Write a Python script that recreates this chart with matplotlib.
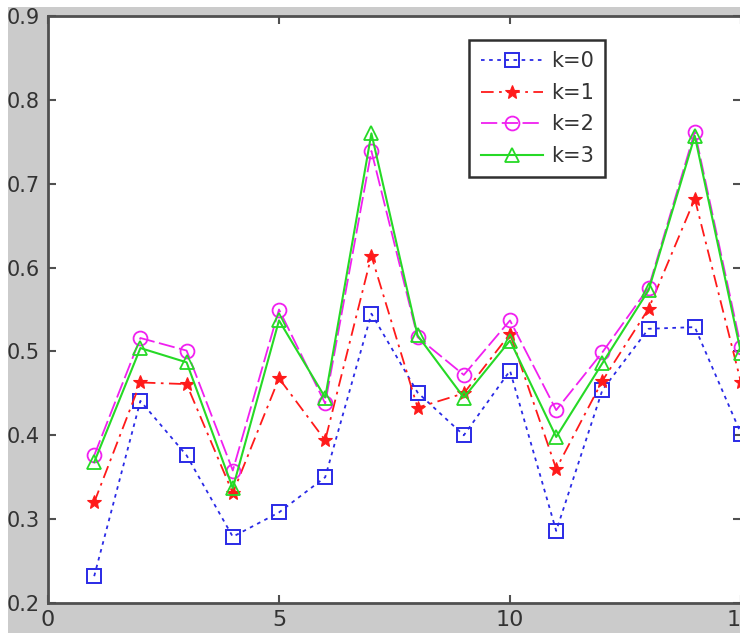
import matplotlib.pyplot as plt
from matplotlib.patches import Rectangle

# values
x = [1, 2, 3, 4, 5, 6, 7, 8, 9, 10, 11, 12, 13, 14, 15]
k0 = [0.232, 0.441, 0.376, 0.279, 0.308, 0.350, 0.545, 0.451, 0.400, 0.477, 0.286, 0.454, 0.527, 0.529, 0.402]
k1 = [0.320, 0.463, 0.461, 0.331, 0.468, 0.394, 0.614, 0.433, 0.450, 0.521, 0.360, 0.465, 0.551, 0.682, 0.463]
k2 = [0.376, 0.516, 0.501, 0.358, 0.550, 0.438, 0.739, 0.517, 0.472, 0.537, 0.430, 0.499, 0.576, 0.762, 0.505]
k3 = [0.368, 0.504, 0.487, 0.337, 0.537, 0.445, 0.760, 0.519, 0.445, 0.513, 0.398, 0.486, 0.573, 0.757, 0.498]
labels = ['k=0', 'k=1', 'k=2', 'k=3']
xticks = [0, 5, 10, 15]
yticks = [0.2, 0.3, 0.4, 0.5, 0.6, 0.7, 0.8, 0.9]

W, H = 740, 633
fig = plt.figure(figsize=(W / 100, H / 100), dpi=100, facecolor='white')
# matlab gray figure background (image is cropped, white strip top/left)
fig.add_artist(Rectangle((8 / W, 0), 1, 1 - 7 / H, transform=fig.transFigure,
                         facecolor='#cbcbcb', edgecolor='none', zorder=0))

ax = fig.add_axes([48 / W, 1 - 603 / H, 693 / W, 587 / H])
ax.set_facecolor('white')

ax.plot(x, k0, linestyle=(0, (2, 2.5)), color='#2a2ae6', lw=1.3, marker='s',
        ms=10, mfc='none', mew=1.4, label=labels[0])
ax.plot(x, k1, linestyle=(0, (7, 3, 1.5, 3)), color='#ff1a1a', lw=1.3, marker='*',
        ms=10, mfc='#ff1a1a', mew=0.8, label=labels[1])
ax.plot(x, k2, linestyle=(0, (9, 2.5)), color='#f020f0', lw=1.3, marker='o',
        ms=10, mfc='none', mew=1.3, label=labels[2])
ax.plot(x, k3, linestyle='-', color='#26d926', lw=1.5, marker='^',
        ms=10, mfc='none', mew=1.3, label=labels[3])

ax.set_xlim(0, 15)
ax.set_ylim(0.2, 0.9)
ax.set_xticks(xticks)
ax.set_xticklabels([str(t) for t in xticks])
ax.set_yticks(yticks)
ax.set_yticklabels(['%.1f' % t for t in yticks])

for s in ax.spines.values():
    s.set_color('#505050')
    s.set_linewidth(2.0)
ax.tick_params(direction='in', length=6, width=1.5, color='#505050',
               top=True, right=True, labelcolor='#333333')
ax.tick_params(axis='x', labelsize=16, pad=5)
ax.tick_params(axis='y', labelsize=15, pad=6)

leg = ax.legend(loc='upper right', bbox_to_anchor=(557 / 693, 563 / 587),
                borderaxespad=0, fontsize=15, handlelength=3.0,
                labelspacing=0.55, handletextpad=0.35, borderpad=0.55,
                fancybox=False, framealpha=1, edgecolor='#303030')
leg.get_frame().set_linewidth(1.8)
for t in leg.get_texts():
    t.set_color('#333333')

fig.savefig('out.png', dpi=100, facecolor=fig.get_facecolor())
